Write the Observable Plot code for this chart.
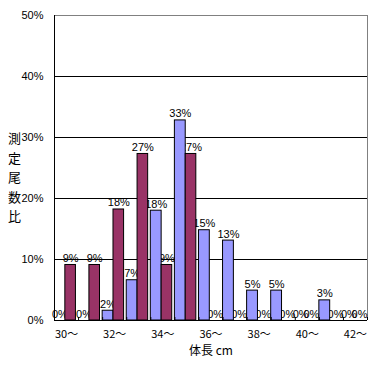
<!DOCTYPE html>
<html>
<head>
<meta charset="utf-8">
<script src="https://cdn.jsdelivr.net/npm/d3@7"></script>
<script src="https://cdn.jsdelivr.net/npm/@observablehq/plot@0.6"></script>
<style>
  html, body { margin: 0; padding: 0; background: white; }
</style>
</head>
<body>
<div id="chart"></div>
<script>
const categories = ["30", "31", "32", "33", "34", "35", "36", "37", "38", "39", "40", "41", "42"];
const seriesA = [0, 0, 1.6, 6.6, 18.0, 32.8, 14.8, 13.1, 4.9, 4.9, 0, 3.3, 0];   // lavender
const seriesB = [9.1, 9.1, 18.2, 27.3, 9.1, 27.3, 0, 0, 0, 0, 0, 0, 0];          // maroon
const xTickLabels = ["30～", "32～", "34～", "36～", "38～", "40～", "42～"];
const yTicks = [0, 10, 20, 30, 40, 50];
const yTitle = "測定尾数比";
const xTitle = "体長 cm";

const colorA = "#9999FF";
const colorB = "#993366";
const font = "'Noto Sans CJK JP', 'DejaVu Sans', sans-serif";
const numFont = "'Liberation Sans', 'Noto Sans CJK JP', sans-serif";

const rows = [];
categories.forEach((c, i) => {
  rows.push({i, series: "A", value: seriesA[i], x1: i, x2: i + 0.45});
  rows.push({i, series: "B", value: seriesB[i], x1: i + 0.45, x2: i + 0.89});
});

const n = categories.length;
const boundaries = d3.range(0, n + 1);
const labelPositions = xTickLabels.map((t, j) => categories.indexOf(t.replace("～", "")) + 0.5);

const chart = Plot.plot({
  width: 372,
  height: 365,
  marginLeft: 54,
  marginRight: 5,
  marginTop: 15,
  marginBottom: 45,
  style: {fontFamily: font, fontSize: "11px", background: "white", color: "black"},
  x: {type: "linear", domain: [0, n], axis: null},
  y: {domain: [0, 50], axis: null},
  marks: [
    Plot.ruleY([10, 20, 30, 40], {stroke: "black", strokeWidth: 1, strokeOpacity: 1}),
    Plot.ruleY([50], {stroke: "#808080", strokeWidth: 1}),
    Plot.ruleX([n], {stroke: "#808080", strokeWidth: 1}),
    Plot.text(rows, {
      x: d => (d.x1 + d.x2) / 2,
      y: "value",
      text: d => Math.round(d.value) + "%",
      lineAnchor: "bottom",
      dy: -3,
      fill: "black",
      fontSize: 11,
      fontFamily: numFont
    }),
    Plot.rect(rows, {
      x1: "x1", x2: "x2", y1: 0, y2: "value",
      fill: d => d.series === "A" ? colorA : colorB,
      stroke: "black",
      strokeWidth: 1
    }),
    Plot.ruleX([0], {stroke: "black", strokeWidth: 1}),
    Plot.ruleY([0], {stroke: "black", strokeWidth: 1}),
    Plot.axisY({
      ticks: yTicks,
      tickFormat: d => d + "%",
      tickSize: 0,
      tickPadding: 11,
      fontSize: 11,
      fontFamily: numFont,
      label: null
    }),
    Plot.axisX({
      ticks: boundaries,
      tickSize: 3,
      dy: -3,
      tickFormat: () => "",
      label: null
    }),
    Plot.axisX({
      ticks: labelPositions,
      tickFormat: (d, j) => xTickLabels[j],
      tickSize: 0,
      tickPadding: 10,
      fontSize: 11,
      fontFamily: font,
      label: null
    }),
    Plot.text([yTitle], {
      frameAnchor: "left",
      text: d => d.split("").join("\n"),
      lineHeight: 1.5,
      dx: -40,
      dy: 8,
      fontSize: 13,
      textAnchor: "middle",
      fill: "black"
    }),
    Plot.text([xTitle], {
      frameAnchor: "bottom",
      text: d => d,
      dy: 34,
      fontSize: 12,
      fill: "black"
    })
  ]
});
document.getElementById("chart").appendChild(chart);
</script>
</body>
</html>
